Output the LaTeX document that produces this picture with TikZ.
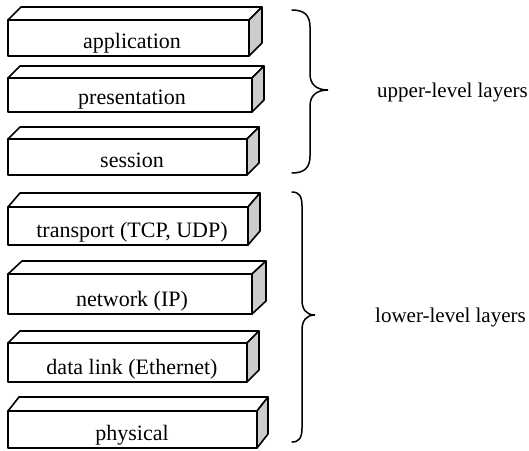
\documentclass[tikz,border=0pt]{standalone}
\usepackage{fontspec}
\setmainfont{Liberation Serif}
\begin{document}
\begin{tikzpicture}[x=1pt,y=-1pt,
  edge/.style={line width=1.6pt,line join=round},
  front/.style={edge,fill=white},
  side/.style={edge,fill=black!20},
  lab/.style={anchor=base,inner sep=0pt,font=\fontsize{22}{25}\selectfont},
  side label/.style={anchor=base west,inner sep=0pt,font=\fontsize{21}{24}\selectfont},
  brace/.style={line width=1.5pt,line cap=round}]
\useasboundingbox (0,0) rectangle (529,450);
\foreach \n/\r/\t/\b/\dx/\dy/\lab in {
  app/249/20/56/13/13/application,
  pres/252/78/112/12/12/presentation,
  sess/247/139/175/12/12/session,
  trans/248/207/245/12/14/{transport (TCP, UDP)},
  net/252/274/314/14/13/network (IP),
  dl/247/343/382/12/12/data link (Ethernet),
  phys/257/411/448/11/14/physical}{
  \draw[front] (8,\t) -- (8+\dx,\t-\dy) -- (\r+\dx,\t-\dy) -- (\r,\t) -- cycle;
  \draw[side] (\r,\t) -- (\r+\dx,\t-\dy) -- (\r+\dx,\b-\dy) -- (\r,\b) -- cycle;
  \draw[front] (8,\t) rectangle (\r,\b);
  \node[lab] (\n) at (132,\b-8) {\lab};
}
% upper brace
\draw[brace] (292,10) .. controls (304,10) and (310,15) .. (310,27) -- (310,74)
  .. controls (310,84) and (316,90) .. (328,90)
  .. controls (316,90) and (310,96) .. (310,106) -- (310,156)
  .. controls (310,168) and (304,173) .. (292,173);
% lower brace
\draw[brace] (292,192) .. controls (299,192) and (302,196) .. (302,206) -- (302,300)
  .. controls (302,309) and (306,315) .. (315,315)
  .. controls (306,315) and (302,321) .. (302,330) -- (302,428)
  .. controls (302,438) and (299,442) .. (292,442);
\node[side label] (upper) at (377,97) {upper-level layers};
\node[side label] (lower) at (375,322) {lower-level layers};
\end{tikzpicture}
\end{document}
